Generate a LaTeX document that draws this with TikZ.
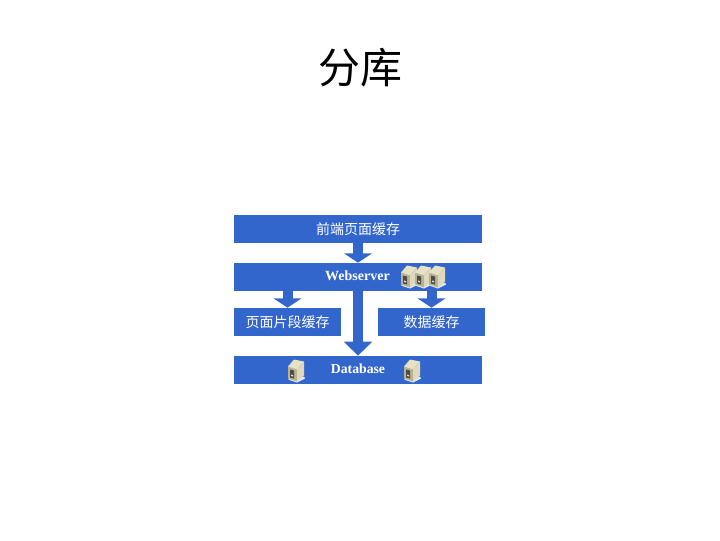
\documentclass[tikz,border=0pt]{standalone}
\usepackage{fontspec}
\setmainfont{Liberation Serif}
\newfontfamily\cjk{Noto Sans CJK SC}
\usetikzlibrary{arrows.meta}
\definecolor{boxblue}{HTML}{3366CC}
\definecolor{srvbody}{HTML}{E8E2C4}
\definecolor{srvside}{HTML}{B9B391}
\tikzset{
  layer/.style={
    minimum width=186pt,
    minimum height=21pt,
    inner sep=0pt,
    fill=boxblue, text=white,
  },
  cache/.style={
    layer,
    minimum width=80.25pt,
  },
  flow/.style={
    draw=boxblue,
    line width=7.5pt,
    -{Triangle[length=7pt,width=20.5pt]},
  },
  flow long/.style={
    flow,
    -{Triangle[length=10.5pt,width=20.5pt]},
  },
  server/.pic={
    \fill[white!85!boxblue] (-8,8) -- (1,11) -- (9,7) -- (8,5) -- cycle;
    \fill[srvside] (-8,-5) -- (1,-2) -- (1,10) -- (-8,7) -- cycle;
    \fill[srvbody] (-8,-5) -- (-2,-12) -- (8,-10) -- (1,-2) -- cycle;
    \fill[srvbody!80!srvside] (1,-2) -- (8,-10) -- (8,4) -- (1,10) -- cycle;
    \fill[black!70] (-6,-2) -- (-2,-1) -- (-2,7) -- (-6,6) -- cycle;
    \fill[srvbody] (-5,3) -- (-3,3.6) -- (-3,5) -- (-5,4.4) -- cycle;
  },
}

\begin{document}
\begin{tikzpicture}[x=0.75pt, y=-0.75pt, font=\small]
\useasboundingbox (0,0) rectangle (720,540);

\node[font=\cjk\fontsize{31.5}{34}\selectfont] (title) at (360,68) {分库};

\node[layer, font=\cjk\fontsize{10.5}{12}\selectfont] (front) at (358,229) {前端页面缓存};
\node[layer] (web) at (358,277) {};
\node[cache, font=\cjk\fontsize{10.5}{12}\selectfont] (page) at (287.5,322) {页面片段缓存};
\node[cache, font=\cjk\fontsize{10.5}{12}\selectfont] (data) at (431.5,322) {数据缓存};
\node[layer] (db) at (358,370) {};

\node[text=white, font=\bfseries\fontsize{10.5}{12}\selectfont] (weblabel) at (357.5,276) {Webserver};
\node[text=white, font=\bfseries\fontsize{10.3}{12}\selectfont] (dblabel) at (358,369) {Database};

\draw[flow] (front) -- (web);
\draw[flow long] (web) -- (db);
\draw[flow] (page |- web.south) -- (page);
\draw[flow] (data |- web.south) -- (data);

\foreach \x in { 409,423,437 }
  \pic at (\x,277.5) {server};
\foreach \x in { 296,412 }
  \pic at (\x,371.5) {server};
\end{tikzpicture}
\end{document}
